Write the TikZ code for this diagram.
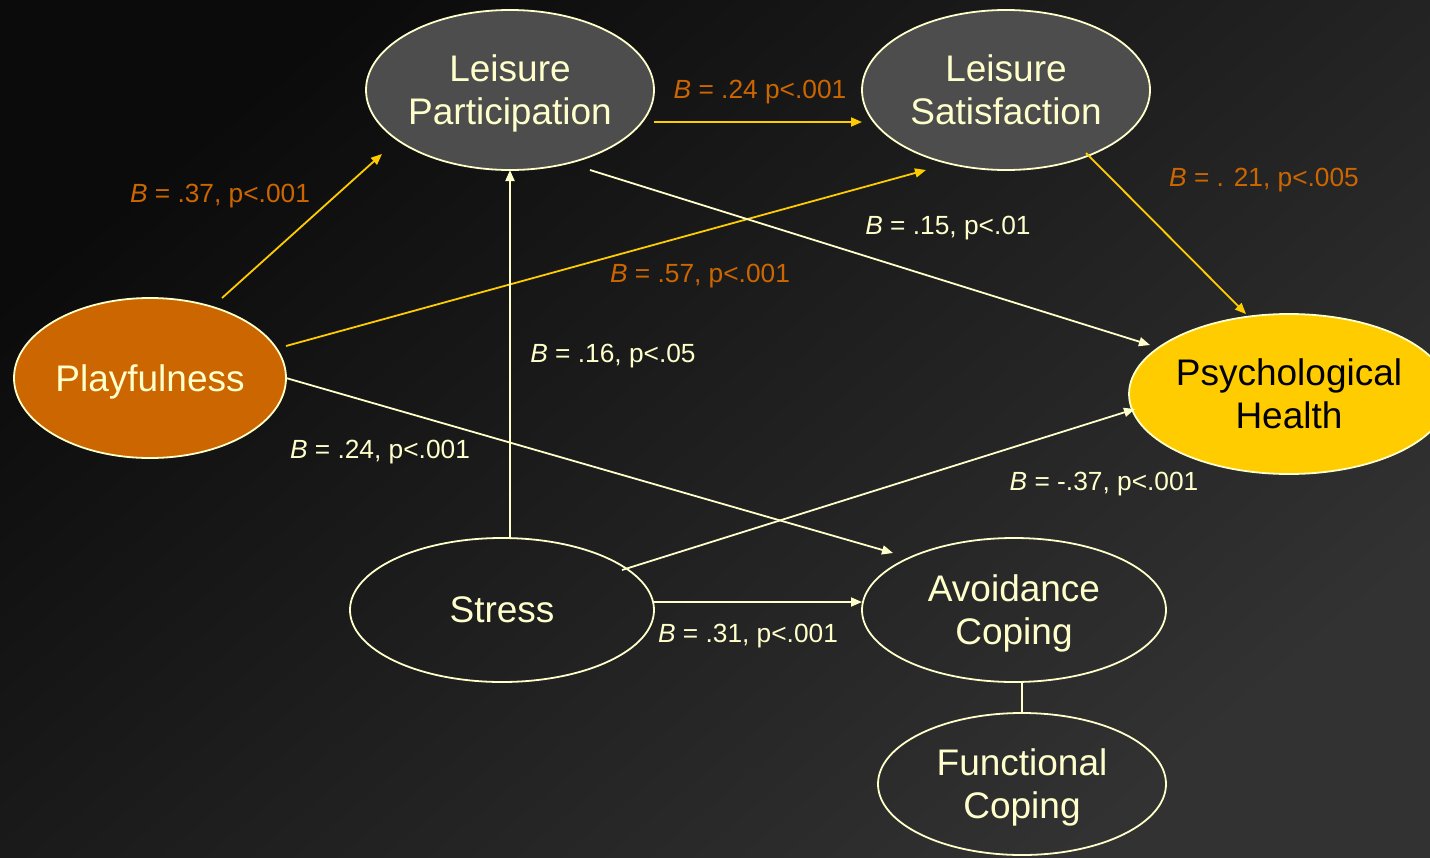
\documentclass[tikz,border=0pt]{standalone}
\usepackage{fontspec}
\setmainfont{Liberation Sans}
\usetikzlibrary{arrows.meta,shapes.geometric}
\definecolor{cream}{HTML}{FFFFCC}
\definecolor{gold}{HTML}{FFCC00}
\definecolor{orng}{HTML}{CC6600}
\definecolor{grayfill}{HTML}{4D4D4D}
\definecolor{bgdark}{HTML}{0B0B0B}
\definecolor{bglight}{HTML}{323232}
\begin{document}
\begin{tikzpicture}[x=1pt,y=-1pt,
 ell/.style={ellipse,draw=cream,line width=1.8pt,inner sep=0pt,align=center,text depth=0pt,text=cream,font=\fontsize{37}{43}\selectfont},
 ya/.style={draw=gold,line width=1.8pt,-{Triangle[length=11pt,width=9pt]}},
 wa/.style={draw=cream,line width=1.8pt,-{Triangle[length=11pt,width=9pt]}},
 olab/.style={text=orng,text depth=0pt,font=\fontsize{26.3}{30}\selectfont},
 wlab/.style={text=cream,text depth=0pt,font=\fontsize{26.3}{30}\selectfont}]
\useasboundingbox (0,0) rectangle (1430,857);
\shade[top color=bgdark, bottom color=bglight, shading angle=40] (0,0) rectangle (1430,857);

% nodes
\node[ell,fill=grayfill,minimum width=288pt,minimum height=160pt] (lp) at (510,90) {Leisure\\Participation};
\node[ell,fill=grayfill,minimum width=288pt,minimum height=160pt] (ls) at (1006,90) {Leisure\\Satisfaction};
\node[ell,fill=orng,minimum width=272pt,minimum height=160pt] (pl) at (150,378) {Playfulness};
\node[ell,fill=gold,text=black,minimum width=312pt,minimum height=160pt] (ph) at (1289,394) {Psychological\\Health};
\node[ell,minimum width=304pt,minimum height=144pt] (st) at (502,610) {Stress};
\node[ell,minimum width=304pt,minimum height=144pt] (ac) at (1014,610) {Avoidance\\Coping};
\node[ell,minimum width=288pt,minimum height=142pt] (fc) at (1022,784) {Functional\\Coping};

% connectors
\draw[ya] ([shift={(72,-80)}]pl.center) -- ([shift={(-128,64)}]lp.center);
\draw[ya] ([shift={(136,-32)}]pl.center) -- ([shift={(-80,80)}]ls.center);
\draw[wa] ([shift={(136,0)}]pl.center) -- ([shift={(-121,-57)}]ac.center);
\draw[ya] ([shift={(144,32)}]lp.center) -- ([shift={(-144,32)}]ls.center);
\draw[wa] ([shift={(80,80)}]lp.center) -- ([shift={(-139,-49)}]ph.center);
\draw[ya] ([shift={(80,63)}]ls.center) -- ([shift={(-43,-80)}]ph.center);
\draw[wa] ([shift={(8,-72)}]st.center) -- ([shift={(0,80)}]lp.center);
\draw[wa] ([shift={(120,-40)}]st.center) -- ([shift={(-154,15)}]ph.center);
\draw[wa] ([shift={(152,-8)}]st.center) -- ([shift={(-152,-8)}]ac.center);
\draw[draw=cream,line width=1.8pt] ([shift={(8,72)}]ac.center) -- (fc.north);

% labels
\node[olab] (l1) at (220,193) {\textit{B} = .37, p<.001};
\node[olab] (l2) at (760,89) {\textit{B} = .24 p<.001};
\node[olab] (l3) at (1264,177) {\textit{B} = . 21, p<.005};
\node[wlab] (l4) at (948,225) {\textit{B} = .15, p<.01};
\node[olab] (l5) at (700,273) {\textit{B} = .57, p<.001};
\node[wlab] (l6) at (613,353) {\textit{B} = .16, p<.05};
\node[wlab] (l7) at (380,449) {\textit{B} = .24, p<.001};
\node[wlab] (l8) at (1104,481) {\textit{B} = -.37, p<.001};
\node[wlab] (l9) at (748,633) {\textit{B} = .31, p<.001};
\end{tikzpicture}
\end{document}
